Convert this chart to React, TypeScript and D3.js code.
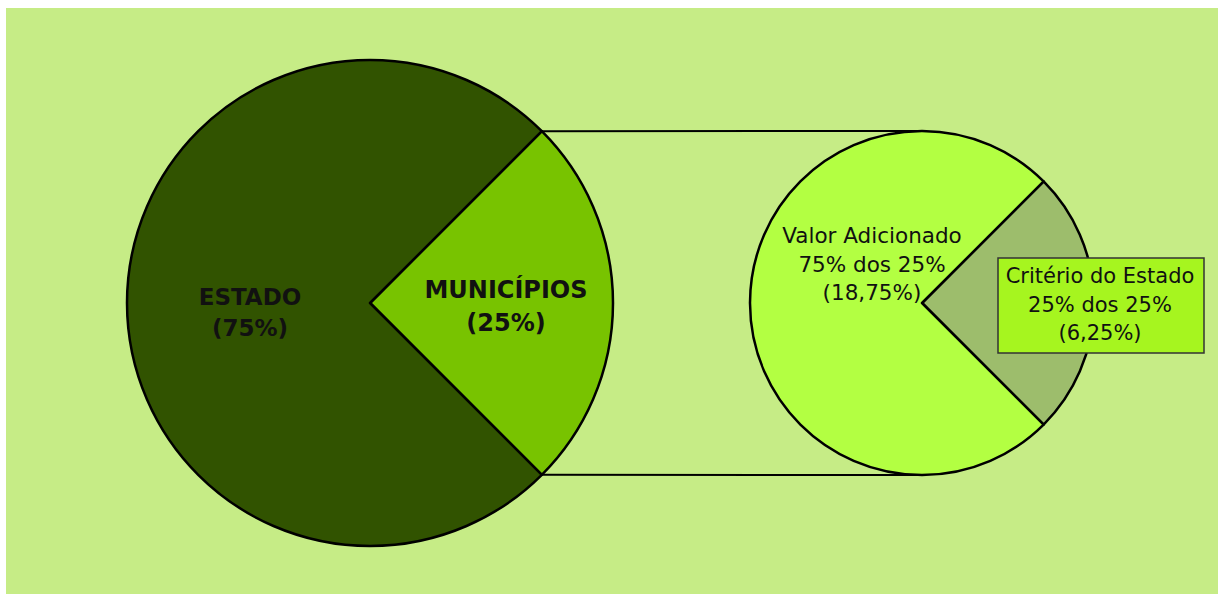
import React from "react";
import * as d3 from "d3";

const mainCategories = ["MUNICÍPIOS", "ESTADO"];
const mainValues = [25, 75];
const mainPercentLabels = ["(25%)", "(75%)"];
const subCategories = ["Critério do Estado", "Valor Adicionado"];
const subValues = [25, 75];
const subLines = [
  ["Critério do Estado", "25% dos 25%", "(6,25%)"],
  ["Valor Adicionado", "75% dos 25%", "(18,75%)"],
];

const W = 1218;
const H = 594;
const mainColors = ["#78c300", "#315300"];
const subColors = ["#9dbd6c", "#b3ff42"];

export default function App() {
  const cx1 = 370, cy1 = 303, r1 = 243;
  const cx2 = 922, cy2 = 303, r2 = 172;

  const pie = d3.pie<number>().sort(null).startAngle(Math.PI / 4).endAngle(Math.PI / 4 + 2 * Math.PI);
  const mainArcs = pie(mainValues);
  const subArcs = pie(subValues);
  const arc1 = d3.arc<d3.PieArcDatum<number>>().innerRadius(0).outerRadius(r1);
  const arc2 = d3.arc<d3.PieArcDatum<number>>().innerRadius(0).outerRadius(r2);

  const m = mainArcs[0];
  const pt = (a: number, r: number, cx: number, cy: number) => [cx + r * Math.sin(a), cy - r * Math.cos(a)];
  const [tx, ty] = pt(m.startAngle, r1, cx1, cy1);
  const [bx, by] = pt(m.endAngle, r1, cx1, cy1);

  const font = "'DejaVu Sans', Verdana, sans-serif";

  return (
    <svg width={W} height={H} style={{ position: "absolute", left: 0, top: 0 }}>
      <rect x={6} y={8} width={W - 6} height={H - 8} fill="#c6ec86" />
      <line x1={tx} y1={ty} x2={cx2} y2={cy2 - r2} stroke="#000" strokeWidth={2} />
      <line x1={bx} y1={by} x2={cx2} y2={cy2 + r2} stroke="#000" strokeWidth={2} />
      <g transform={`translate(${cx1},${cy1})`}>
        {mainArcs.map((a, i) => (
          <path key={i} d={arc1(a) || ""} fill={mainColors[i]} stroke="#000" strokeWidth={2.5} strokeLinejoin="round" />
        ))}
      </g>
      <g transform={`translate(${cx2},${cy2})`}>
        {subArcs.map((a, i) => (
          <path key={i} d={arc2(a) || ""} fill={subColors[i]} stroke="#000" strokeWidth={2.5} strokeLinejoin="round" />
        ))}
      </g>
      {/* main labels */}
      <g fontFamily={font} fontWeight="bold" fill="#111" textAnchor="middle">
        <text x={250} y={305} fontSize={23}>{mainCategories[1]}</text>
        <text x={250} y={336} fontSize={23}>{mainPercentLabels[1]}</text>
        <text x={506} y={298} fontSize={24}>{mainCategories[0]}</text>
        <text x={506} y={331} fontSize={24}>{mainPercentLabels[0]}</text>
      </g>
      {/* sub labels */}
      <g fontFamily={font} fontSize={21.5} fill="#111" textAnchor="middle">
        {subLines[1].map((s, i) => (
          <text key={i} x={872} y={243 + i * 28.5}>{s}</text>
        ))}
      </g>
      <rect x={998} y={258} width={206} height={95} fill="#a6f51f" stroke="#333" strokeWidth={1.5} />
      <g fontFamily={font} fontSize={21} fill="#111" textAnchor="middle">
        {subLines[0].map((s, i) => (
          <text key={i} x={1100} y={283 + i * 28.5}>{s}</text>
        ))}
      </g>
    </svg>
  );
}
